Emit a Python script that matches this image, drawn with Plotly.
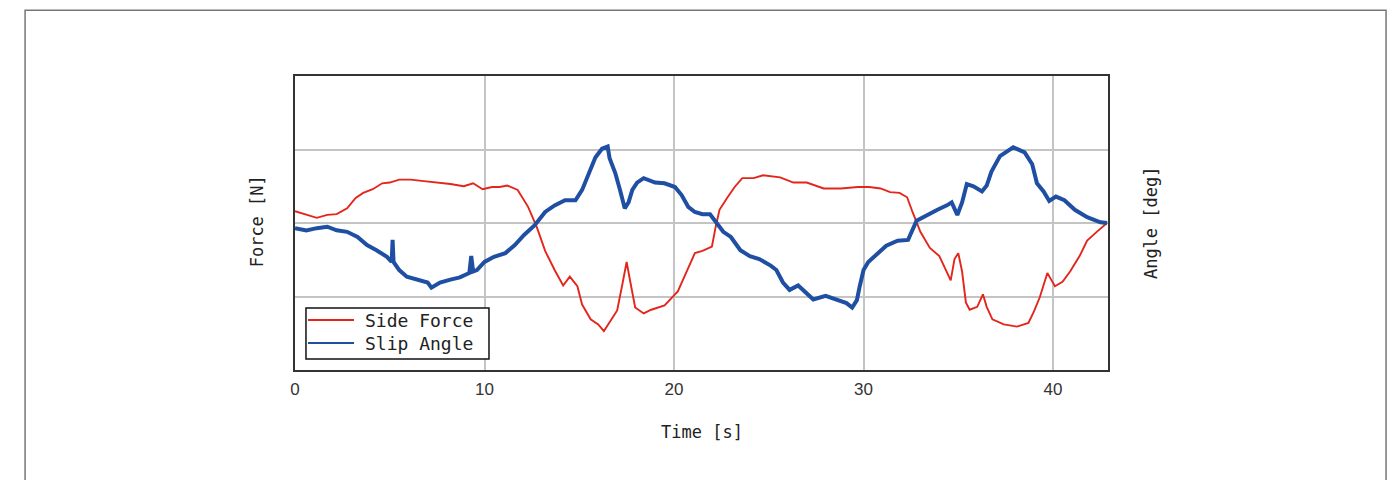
import plotly.graph_objects as go

# ---- data (normalized units; grid lines at -1, 0, 1) ----
force_t = [0.0, 0.6, 1.15, 1.7, 2.2, 2.75, 3.2, 3.6, 4.1, 4.6, 5.0, 5.5, 6.1, 6.8, 7.5,
           8.2, 8.9, 9.4, 9.9, 10.4, 10.8, 11.2, 11.75, 12.1, 12.3, 12.75, 13.2, 13.7,
           14.15, 14.5, 14.9, 15.15, 15.6, 16.0, 16.3, 16.6, 17.0, 17.3, 17.5, 17.7,
           17.95, 18.4, 18.8, 19.5, 20.2, 20.7, 21.1, 21.5, 22.0, 22.2, 22.4, 22.8,
           23.2, 23.6, 24.2, 24.7, 25.6, 26.3, 27.0, 27.9, 28.8, 29.7, 30.3, 30.9,
           31.4, 31.9, 32.3, 32.6, 33.0, 33.5, 34.0, 34.6, 34.8, 35.0, 35.2, 35.4,
           35.6, 36.0, 36.3, 36.5, 36.8, 37.4, 38.1, 38.7, 39.0, 39.3, 39.7, 39.9,
           40.1, 40.5, 40.9, 41.4, 41.8, 42.35, 42.85]
force_v = [0.16, 0.11, 0.07, 0.11, 0.12, 0.20, 0.34, 0.41, 0.46, 0.54, 0.55, 0.59, 0.59,
           0.57, 0.55, 0.53, 0.50, 0.54, 0.46, 0.49, 0.49, 0.51, 0.45, 0.30, 0.22, -0.05,
           -0.38, -0.64, -0.85, -0.73, -0.86, -1.11, -1.31, -1.38, -1.47, -1.35, -1.19,
           -0.80, -0.53, -0.81, -1.15, -1.23, -1.18, -1.12, -0.93, -0.64, -0.41, -0.38,
           -0.32, -0.05, 0.18, 0.34, 0.49, 0.61, 0.61, 0.65, 0.62, 0.55, 0.55, 0.47,
           0.47, 0.49, 0.49, 0.47, 0.42, 0.41, 0.35, 0.14, -0.12, -0.34, -0.45, -0.78,
           -0.49, -0.41, -0.66, -1.08, -1.18, -1.14, -0.97, -1.14, -1.31, -1.38, -1.41,
           -1.36, -1.20, -1.01, -0.68, -0.77, -0.86, -0.80, -0.66, -0.45, -0.24, -0.11, 0.0]

angle_t = [0.0, 0.6, 1.15, 1.7, 2.2, 2.75, 3.3, 3.8, 4.3, 4.85, 5.1, 5.15, 5.2, 5.5, 5.9,
           6.4, 7.0, 7.2, 7.65, 8.2, 8.7, 9.2, 9.3, 9.4, 9.6, 10.0, 10.5, 11.1, 11.6,
           12.1, 12.65, 13.2, 13.7, 14.25, 14.8, 15.15, 15.5, 15.85, 16.2, 16.5, 16.6,
           16.9, 17.15, 17.4, 17.6, 17.8, 18.05, 18.4, 19.0, 19.5, 20.05, 20.4, 20.75,
           21.1, 21.5, 21.9, 22.25, 22.6, 23.0, 23.5, 24.0, 24.5, 25.1, 25.4, 25.75,
           26.1, 26.55, 27.0, 27.35, 28.0, 28.6, 29.1, 29.4, 29.65, 29.8, 30.0, 30.25,
           30.7, 31.2, 31.8, 32.35, 32.8, 33.35, 33.9, 34.4, 34.65, 34.95, 35.2, 35.45,
           35.8, 36.25, 36.5, 36.75, 37.2, 37.9, 38.5, 38.9, 39.15, 39.5, 39.8, 40.15,
           40.6, 41.15, 41.8, 42.5, 42.85]
angle_v = [-0.07, -0.10, -0.07, -0.05, -0.10, -0.12, -0.19, -0.30, -0.37, -0.46, -0.53,
           -0.23, -0.53, -0.64, -0.73, -0.77, -0.81, -0.88, -0.81, -0.77, -0.74, -0.68,
           -0.45, -0.66, -0.64, -0.53, -0.46, -0.41, -0.30, -0.16, -0.03, 0.15, 0.24,
           0.31, 0.31, 0.45, 0.68, 0.89, 1.01, 1.04, 0.88, 0.68, 0.45, 0.20, 0.28, 0.45,
           0.55, 0.61, 0.55, 0.54, 0.49, 0.38, 0.22, 0.15, 0.12, 0.12, 0.0, -0.12, -0.19,
           -0.37, -0.45, -0.49, -0.58, -0.64, -0.81, -0.91, -0.85, -0.96, -1.04, -0.99,
           -1.04, -1.09, -1.15, -1.05, -0.86, -0.64, -0.53, -0.43, -0.31, -0.24, -0.23,
           0.03, 0.11, 0.18, 0.24, 0.28, 0.11, 0.28, 0.53, 0.50, 0.43, 0.51, 0.70, 0.91,
           1.03, 0.96, 0.80, 0.54, 0.43, 0.30, 0.36, 0.31, 0.18, 0.08, 0.01, 0.0]

series_names = ["Side Force", "Slip Angle"]
series_colors = ["#e3261c", "#1f4fa3"]
x_ticks = [0, 10, 20, 30, 40]
x_range = [0, 42.9]
y_grid = [-1, 0, 1]

MONO = "DejaVu Sans Mono"

fig = go.Figure()
fig.add_trace(go.Scatter(x=force_t, y=force_v, mode="lines", name=series_names[0],
                         line=dict(color=series_colors[0], width=1.9)))
fig.add_trace(go.Scatter(x=angle_t, y=angle_v, mode="lines", name=series_names[1],
                         line=dict(color=series_colors[1], width=4)))

# custom legend box (paper coordinates)
leg_shapes = [dict(type="rect", xref="paper", yref="paper",
                   x0=0.0135, x1=0.2386, y0=0.0374, y1=0.2109,
                   line=dict(color="#111", width=1.5), fillcolor="white", layer="above")]
leg_rows = [0.170, 0.0918]
leg_annots = []
for name, col, yy in zip(series_names, series_colors, leg_rows):
    leg_shapes.append(dict(type="line", xref="paper", yref="paper",
                           x0=0.016, x1=0.0726, y0=yy, y1=yy,
                           line=dict(color=col, width=2), layer="above"))
    leg_annots.append(dict(text=name, xref="paper", yref="paper", x=0.0835, y=yy,
                           xanchor="left", yanchor="middle", showarrow=False,
                           font=dict(family=MONO, size=18, color="#222")))

fig.update_layout(
    width=1380, height=472,
    margin=dict(l=287, r=280, t=68, b=110),
    paper_bgcolor="white", plot_bgcolor="white",
    showlegend=False,
    xaxis=dict(range=x_range, tickvals=x_ticks, ticktext=[str(v) for v in x_ticks],
               showgrid=True, gridcolor="#c4c4c4", gridwidth=1.5,
               showline=True, linecolor="#333", linewidth=2, mirror=True,
               ticks="", ticklabelstandoff=3,
               tickfont=dict(family="Liberation Sans", size=17, color="#333"),
               zeroline=False),
    yaxis=dict(range=[-2, 2], tickvals=y_grid, showticklabels=False,
               showgrid=True, gridcolor="#c4c4c4", gridwidth=1.5,
               showline=True, linecolor="#333", linewidth=2, mirror=True,
               ticks="", zeroline=False),
    shapes=[dict(type="rect", xref="paper", yref="paper",
                 x0=-0.332, x1=1.342, y0=-0.5, y1=1.224,
                 line=dict(color="#777", width=1.5), layer="below")] + leg_shapes,
    annotations=[
        dict(text="Time [s]", xref="paper", yref="paper", x=0.5, y=-0.211,
             xanchor="center", yanchor="middle", showarrow=False,
             font=dict(family=MONO, size=17, color="#222")),
        dict(text="Force [N]", xref="paper", yref="paper", x=-0.047, y=0.505,
             xanchor="center", yanchor="middle", showarrow=False, textangle=-90,
             font=dict(family=MONO, size=17, color="#222")),
        dict(text="Angle [deg]", xref="paper", yref="paper", x=1.053, y=0.5,
             xanchor="center", yanchor="middle", showarrow=False, textangle=-90,
             font=dict(family=MONO, size=17, color="#222")),
    ] + leg_annots,
)

fig.write_html("out.html")
